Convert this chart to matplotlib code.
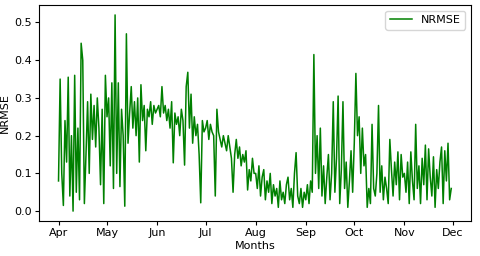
import matplotlib
matplotlib.use("Agg")
import matplotlib.pyplot as plt
import matplotlib.dates as mdates
import pandas as pd

# daily NRMSE values, one list per month
apr = [0.08, 0.35, 0.10, 0.015, 0.24, 0.13, 0.355, 0.04, 0.20, 0.00,
       0.36, 0.05, 0.22, 0.03, 0.445, 0.40, 0.02, 0.15, 0.29, 0.10,
       0.31, 0.19, 0.28, 0.17, 0.30, 0.22, 0.07, 0.27, 0.02, 0.36]
may = [0.25, 0.30, 0.12, 0.34, 0.06, 0.52, 0.10, 0.34, 0.065, 0.27,
       0.20, 0.013, 0.47, 0.18, 0.26, 0.33, 0.22, 0.29, 0.20, 0.30,
       0.13, 0.335, 0.24, 0.28, 0.16, 0.27, 0.25, 0.29, 0.23, 0.28, 0.26]
jun = [0.27, 0.28, 0.25, 0.33, 0.26, 0.28, 0.24, 0.27, 0.22, 0.29,
       0.128, 0.26, 0.23, 0.25, 0.20, 0.27, 0.24, 0.122, 0.33, 0.368,
       0.22, 0.31, 0.18, 0.25, 0.20, 0.23, 0.15, 0.022, 0.24, 0.21]
jul = [0.22, 0.24, 0.19, 0.23, 0.21, 0.20, 0.04, 0.27, 0.21, 0.19,
       0.17, 0.20, 0.18, 0.16, 0.20, 0.17, 0.14, 0.05, 0.15, 0.19,
       0.14, 0.17, 0.12, 0.15, 0.13, 0.16, 0.056, 0.11, 0.08, 0.14, 0.10]
aug = [0.10, 0.06, 0.12, 0.04, 0.09, 0.11, 0.03, 0.08, 0.05, 0.10,
       0.02, 0.07, 0.04, 0.06, 0.01, 0.08, 0.03, 0.05, 0.02, 0.07,
       0.09, 0.03, 0.06, 0.01, 0.10, 0.155, 0.04, 0.02, 0.06, 0.01, 0.05]
sep = [0.03, 0.07, 0.02, 0.08, 0.05, 0.415, 0.10, 0.20, 0.06, 0.22,
       0.04, 0.12, 0.02, 0.09, 0.15, 0.03, 0.10, 0.29, 0.05, 0.14,
       0.305, 0.02, 0.11, 0.29, 0.06, 0.13, 0.01, 0.08, 0.16, 0.05]
oct = [0.18, 0.365, 0.20, 0.25, 0.10, 0.22, 0.12, 0.15, 0.01, 0.06,
       0.02, 0.23, 0.06, 0.04, 0.10, 0.28, 0.05, 0.12, 0.03, 0.09,
       0.06, 0.02, 0.19, 0.11, 0.04, 0.13, 0.07, 0.157, 0.03, 0.15, 0.09]
nov = [0.10, 0.05, 0.13, 0.02, 0.157, 0.08, 0.03, 0.23, 0.06, 0.12,
       0.02, 0.14, 0.07, 0.175, 0.03, 0.165, 0.09, 0.04, 0.144, 0.01,
       0.11, 0.06, 0.13, 0.17, 0.02, 0.16, 0.08, 0.18, 0.03, 0.06]

nrmse = apr + may + jun + jul + aug + sep + oct + nov
dates = pd.date_range("2021-04-01", periods=len(nrmse), freq="D")

fig = plt.figure(figsize=(4.8, 2.56), dpi=100)
ax = fig.add_axes([0.081, 0.137, 0.9, 0.843])

ax.plot(dates, nrmse, color="green", linewidth=1.1, label="NRMSE")

ax.xaxis.set_major_locator(mdates.MonthLocator())
ax.xaxis.set_major_formatter(mdates.DateFormatter("%b"))
ax.set_xlabel("Months", fontsize=8, labelpad=2)
ax.set_ylabel("NRMSE", fontsize=8, labelpad=3)
ax.tick_params(labelsize=8, length=3, pad=2)
ax.legend(loc="upper right", fontsize=8)

plt.savefig("out.png", dpi=100)
